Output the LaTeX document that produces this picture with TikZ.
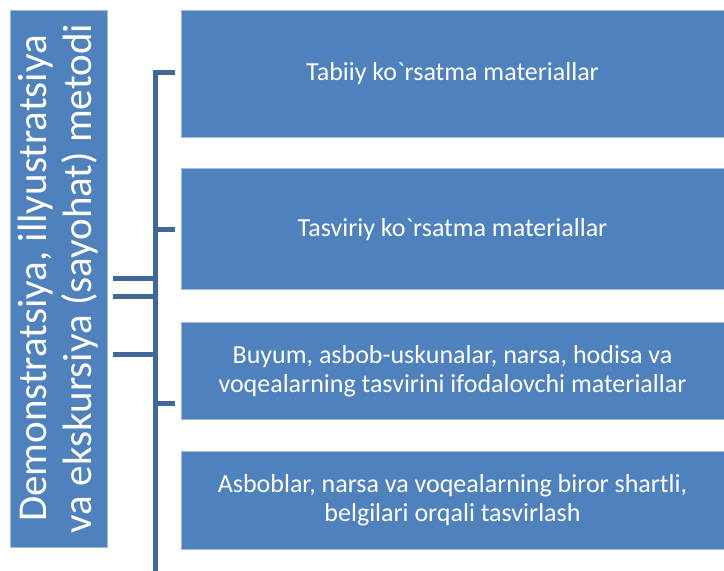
\documentclass[tikz,border=0pt]{standalone}
\usepackage{fontspec}
\setmainfont{Carlito}[Ligatures=TeXOff]
\usepackage{tikz}
\usetikzlibrary{positioning, calc}
\definecolor{boxblue}{HTML}{4F81BD}
\definecolor{boxedge}{HTML}{A3BDDC}
\definecolor{linkblue}{HTML}{3F6899}
\tikzstyle{methodbox} = [rectangle, rotate=90, minimum width=537pt, minimum height=97pt, align=center, text=white, fill=boxblue, draw=boxedge, line width=0.75pt, inner sep=2pt, font=\fontsize{41}{45}\selectfont]
\tikzstyle{itembox} = [rectangle, minimum width=543pt, align=center, text=white, fill=boxblue, draw=boxedge, line width=0.75pt, font=\fontsize{26}{29}\selectfont]
\tikzstyle{bracket} = [line width=5pt, draw=linkblue]

\begin{document}
\begin{tikzpicture}
\useasboundingbox[fill=white] (0,0) rectangle (724pt,-571pt);
\node (demo) [methodbox] at (58.5pt,-278.5pt) {Demonstratsiya, illyustratsiya\\va ekskursiya (sayohat) metodi};
\node (tabiiy) [itembox, minimum height=127pt] at (452.5pt,-73.5pt) {Tabiiy ko`rsatma materiallar};
\node (tasviriy) [itembox, minimum height=121pt, below=31pt of tabiiy] {Tasviriy ko`rsatma materiallar};
\node (buyum) [itembox, minimum height=97pt, below=32pt of tasviriy] {Buyum, asbob-uskunalar, narsa, hodisa va\\voqealarning tasvirini ifodalovchi materiallar};
\node (asboblar) [itembox, minimum height=98pt, below=31pt of buyum] {Asboblar, narsa va voqealarning biror shartli,\\belgilari orqali tasvirlash};

\coordinate (spinetop) at (155.5pt,-72pt);
\coordinate (spinebot) at (155.5pt,-575pt);
\coordinate (buyumtick) at ([yshift=-32.5pt]buyum.west);
\coordinate (demotick2) at ([yshift=-17.5pt]demo.south);
\coordinate (demotick3) at ([yshift=-75.5pt]demo.south);

\draw[bracket, shorten <=6pt] (tabiiy.west |- spinetop) -- (spinetop) -- (spinebot);
\draw[bracket, shorten <=6pt] (tasviriy.west) -- (tasviriy.west -| spinetop);
\draw[bracket, shorten <=6pt] (buyumtick) -- (buyumtick -| spinetop);
\draw[bracket, shorten <=6pt] (demo.south) -- (demo.south -| spinetop);
\draw[bracket, shorten <=6pt] (demotick2) -- (demotick2 -| spinetop);
\draw[bracket, shorten <=6pt] (demotick3) -- (demotick3 -| spinetop);
\end{tikzpicture}
\end{document}
